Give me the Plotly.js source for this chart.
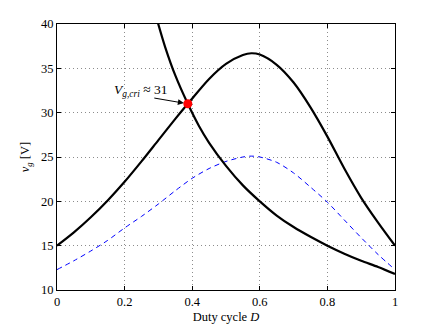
<!DOCTYPE html>
<html>
<head>
<meta charset="utf-8">
<script src="https://cdn.plot.ly/plotly-3.0.1.min.js"></script>
<style>html,body{margin:0;padding:0;background:#fff;}#chart{width:436px;height:328px;}</style>
</head>
<body>
<div id="chart"></div>
<script>
// Hump curve (solid black)
const dHump = [0, 0.05, 0.1, 0.15, 0.2, 0.25, 0.3, 0.35, 0.387, 0.45, 0.5, 0.55, 0.575, 0.6, 0.65, 0.7, 0.75, 0.8, 0.85, 0.9, 0.95, 1.0];
const vHump = [15.0, 16.5, 18.2, 20.1, 22.2, 24.5, 26.9, 29.3, 31.0, 33.8, 35.5, 36.5, 36.7, 36.55, 35.4, 33.4, 30.6, 27.3, 23.7, 20.4, 17.6, 15.0];
// Decreasing curve (solid black)
const dFall = [0.295, 0.32, 0.35, 0.387, 0.42, 0.45, 0.5, 0.55, 0.6, 0.65, 0.7, 0.75, 0.8, 0.85, 0.9, 0.95, 1.0];
const vFall = [40.6, 37.4, 34.2, 31.0, 28.5, 26.6, 24.0, 21.8, 20.0, 18.4, 17.1, 16.0, 15.0, 14.1, 13.3, 12.6, 11.8];
// Dashed blue curve
const dDash = [0, 0.05, 0.1, 0.15, 0.2, 0.25, 0.3, 0.35, 0.4, 0.45, 0.5, 0.55, 0.575, 0.6, 0.65, 0.7, 0.75, 0.8, 0.85, 0.9, 0.95, 1.0];
const vDash = [12.3, 13.3, 14.4, 15.6, 17.0, 18.3, 19.7, 21.2, 22.6, 23.7, 24.5, 25.0, 25.1, 25.0, 24.4, 23.2, 21.6, 19.9, 17.9, 15.9, 14.0, 12.3];
// Critical point
const dCrit = [0.387];
const vCrit = [31.0];
const critLabel = '<i>V<sub>g,cri</sub></i> ≈ 31';

const serif = 'Liberation Serif, Times New Roman, serif';

const traces = [
  {x: dDash, y: vDash, mode: 'lines', line: {color: '#0000ff', width: 1, dash: '5px,4px', shape: 'spline', smoothing: 0.8}, hoverinfo: 'skip'},
  {x: dHump, y: vHump, mode: 'lines', line: {color: '#000', width: 2.2, shape: 'spline', smoothing: 0.8}, hoverinfo: 'skip'},
  {x: dFall, y: vFall, mode: 'lines', line: {color: '#000', width: 2.2, shape: 'spline', smoothing: 0.8}, hoverinfo: 'skip'},
  {x: dCrit, y: vCrit, mode: 'markers', marker: {color: '#ff0000', size: 9}, hoverinfo: 'skip'}
];

const axisCommon = {
  showline: true, linecolor: '#000', linewidth: 1, mirror: 'ticks',
  ticks: 'inside', ticklen: 4, tickcolor: '#000',
  showgrid: true, gridcolor: '#8c8c8c', gridwidth: 1, griddash: '1px,3px',
  zeroline: false, tickfont: {family: serif, size: 12.5, color: '#000'}
};

const layout = {
  width: 436, height: 328,
  margin: {l: 57, r: 41, t: 24, b: 38},
  paper_bgcolor: '#fff', plot_bgcolor: '#fff',
  showlegend: false,
  xaxis: Object.assign({}, axisCommon, {
    range: [0, 1], tickvals: [0, 0.2, 0.4, 0.6, 0.8, 1], ticktext: ['0', '0.2', '0.4', '0.6', '0.8', '1'],
    title: {text: 'Duty cycle <i>D</i>', font: {family: serif, size: 12.5, color: '#000'}, standoff: 4}
  }),
  yaxis: Object.assign({}, axisCommon, {
    range: [10, 40], tickvals: [10, 15, 20, 25, 30, 35, 40],
    title: {text: '<i>v<sub>g</sub></i> [V]', font: {family: serif, size: 12.5, color: '#000'}, standoff: 8}
  }),
  annotations: [
    {x: dCrit[0], y: vCrit[0], xref: 'x', yref: 'y', text: critLabel, showarrow: false,
     xshift: -47, yshift: 13, font: {family: serif, size: 13.5, color: '#000'}},
    {x: dCrit[0], y: vCrit[0], xref: 'x', yref: 'y', text: '', showarrow: true, arrowhead: 2, arrowsize: 1.2, arrowwidth: 1, arrowcolor: '#000',
     ax: -35, ay: -6, standoff: 4}
  ]
};

Plotly.newPlot('chart', traces, layout, {displayModeBar: false, staticPlot: true});
</script>
</body>
</html>
